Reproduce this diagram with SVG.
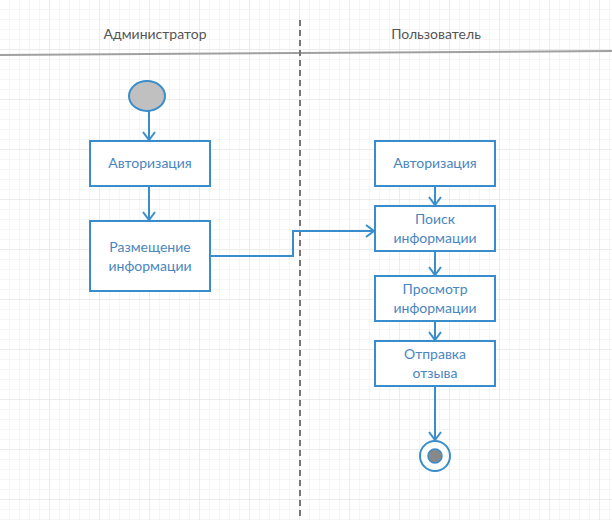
<svg xmlns="http://www.w3.org/2000/svg" width="612" height="520" viewBox="0 0 612 520">
<style>
.box{fill:#ffffff;stroke:#3a8dcc;stroke-width:2}
.lbl{font-family:Lato,"Open Sans","Noto Sans",sans-serif;font-size:14px;fill:#4a86bf;text-anchor:middle}
.hdr{font-family:Lato,"Open Sans","Noto Sans",sans-serif;font-size:14px;fill:#555555;text-anchor:middle}
.edge{fill:none;stroke:#3a8dcc;stroke-width:2}
</style>
<defs>
<pattern id="g10" width="10" height="10" patternUnits="userSpaceOnUse">
<path d="M10 0V10M0 10H10" fill="none" stroke="#ececec" stroke-width="1"/>
</pattern>
<pattern id="g50" width="50" height="50" patternUnits="userSpaceOnUse">
<path d="M50 0V50M0 50H50" fill="none" stroke="#e2e2e2" stroke-width="1"/>
</pattern>
<marker id="arr" markerWidth="12" markerHeight="14" refX="10" refY="7" orient="auto" markerUnits="userSpaceOnUse">
<path d="M2 1L10 7L2 13" fill="none" stroke="#3a8dcc" stroke-width="2"/>
</marker>
</defs>
<rect width="612" height="520" fill="#ffffff"/>
<rect width="612" height="520" fill="url(#g10)"/>
<rect width="612" height="520" fill="url(#g50)"/>

<g id="lanes">
<line x1="0" y1="55" x2="612" y2="51" stroke="#a0a0a0" stroke-width="2"/>
<line x1="300" y1="20" x2="300" y2="520" stroke="#777777" stroke-width="2" stroke-dasharray="6,4"/>
<text class="hdr" x="155" y="39">Администратор</text>
<text class="hdr" x="436" y="39">Пользователь</text>
</g>

<g id="connectors">
<line class="edge" x1="149" y1="111" x2="149" y2="140" marker-end="url(#arr)"/>
<line class="edge" x1="149" y1="186" x2="149" y2="220" marker-end="url(#arr)"/>
<polyline class="edge" points="210,256 293,256 293,231 374,231" marker-end="url(#arr)"/>
<line class="edge" x1="435" y1="186" x2="435" y2="205" marker-end="url(#arr)"/>
<line class="edge" x1="435" y1="251" x2="435" y2="275" marker-end="url(#arr)"/>
<line class="edge" x1="435" y1="321" x2="435" y2="340" marker-end="url(#arr)"/>
<line class="edge" x1="435" y1="386" x2="435" y2="440" marker-end="url(#arr)"/>
</g>

<g id="start">
<ellipse cx="147" cy="96" rx="18" ry="15" fill="#c0c0c0" stroke="#3a8dcc" stroke-width="2"/>
</g>
<g id="adm-auth">
<rect class="box" x="90" y="141" width="120" height="45"/>
<text class="lbl" x="150" y="168">Авторизация</text>
</g>
<g id="adm-post">
<rect class="box" x="90" y="221" width="120" height="70"/>
<text class="lbl" x="150" y="252">Размещение</text>
<text class="lbl" x="150" y="271">информации</text>
</g>
<g id="usr-auth">
<rect class="box" x="375" y="141" width="120" height="45"/>
<text class="lbl" x="435" y="168">Авторизация</text>
</g>
<g id="usr-search">
<rect class="box" x="375" y="206" width="120" height="45"/>
<text class="lbl" x="435" y="224">Поиск</text>
<text class="lbl" x="435" y="243">информации</text>
</g>
<g id="usr-view">
<rect class="box" x="375" y="276" width="120" height="45"/>
<text class="lbl" x="435" y="294">Просмотр</text>
<text class="lbl" x="435" y="313">информации</text>
</g>
<g id="usr-feedback">
<rect class="box" x="375" y="341" width="120" height="45"/>
<text class="lbl" x="435" y="359">Отправка</text>
<text class="lbl" x="435" y="378">отзыва</text>
</g>
<g id="end">
<circle cx="435" cy="456" r="15" fill="#ffffff" stroke="#3a8dcc" stroke-width="2"/>
<circle cx="435" cy="456" r="7" fill="#888888" stroke="#3a8dcc" stroke-width="1.5"/>
</g>
</svg>
